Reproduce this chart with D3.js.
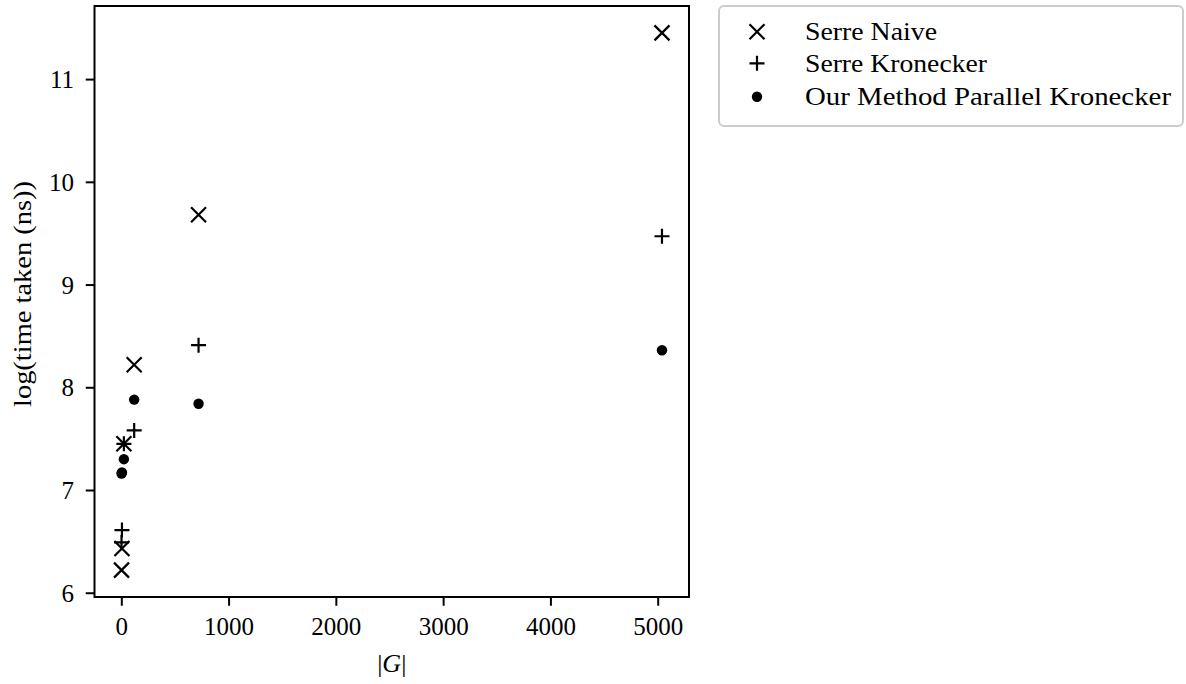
<!DOCTYPE html>
<html>
<head>
<meta charset="utf-8">
<script src="https://cdn.jsdelivr.net/npm/d3@7"></script>
<style>
  html, body { margin: 0; padding: 0; background: #fff; }
  svg { display: block; }
  text { font-family: "Liberation Serif", "DejaVu Serif", serif; fill: #000; }
</style>
</head>
<body>
<svg id="chart" width="1186" height="684"></svg>
<script>
// ---- data ----
const groupOrders = [2, 6, 24, 120, 720, 5040];
const serreNaive = [6.22, 6.43, 7.45, 8.22, 9.68, 11.45];
const serreKronecker = [6.49, 6.61, 7.45, 7.58, 8.41, 9.47];
const ourMethod = [7.16, 7.17, 7.30, 7.88, 7.84, 8.36];
const seriesNames = ["Serre Naive", "Serre Kronecker", "Our Method Parallel Kronecker"];
const xTicks = [0, 1000, 2000, 3000, 4000, 5000];
const yTicks = [6, 7, 8, 9, 10, 11];

// ---- layout ----
const W = 1186, H = 684;
const plot = { left: 94.5, right: 689, top: 6, bottom: 597 };

const svg = d3.select("#chart");

const allX = groupOrders;
const allY = serreNaive.concat(serreKronecker, ourMethod);
const xExt = d3.extent(allX), yExt = d3.extent(allY);
const xPad = (xExt[1] - xExt[0]) * 0.05, yPad = (yExt[1] - yExt[0]) * 0.05;

const x = d3.scaleLinear().domain([xExt[0] - xPad, xExt[1] + xPad]).range([plot.left, plot.right]);
const y = d3.scaleLinear().domain([yExt[0] - yPad, yExt[1] + yPad]).range([plot.bottom, plot.top]);

// axes
const xAxis = svg.append("g")
  .attr("transform", `translate(0,${plot.bottom})`)
  .call(d3.axisBottom(x).tickValues(xTicks).tickFormat(d3.format("d")).tickSizeOuter(0).tickSize(8.75));
xAxis.select(".domain").remove();
xAxis.selectAll(".tick line").attr("stroke", "#000").attr("stroke-width", 2);
xAxis.selectAll(".tick text")
  .attr("y", 38).attr("dy", 0)
  .style("font-size", "25px").style("font-family", "Liberation Serif, serif").attr("fill", "#000");

const yAxis = svg.append("g")
  .attr("transform", `translate(${plot.left},0)`)
  .call(d3.axisLeft(y).tickValues(yTicks).tickFormat(d3.format("d")).tickSizeOuter(0).tickSize(8.75));
yAxis.select(".domain").remove();
yAxis.selectAll(".tick line").attr("stroke", "#000").attr("stroke-width", 2);
yAxis.selectAll(".tick text")
  .attr("x", -20.5).attr("dy", "0.34em")
  .style("font-size", "25px").style("font-family", "Liberation Serif, serif").attr("fill", "#000");

// frame
svg.append("rect")
  .attr("x", plot.left).attr("y", plot.top)
  .attr("width", plot.right - plot.left).attr("height", plot.bottom - plot.top)
  .attr("fill", "none").attr("stroke", "#000").attr("stroke-width", 2);

// marker helpers
const half = 7.5;
function timesPath(cx, cy) {
  return `M${cx - half},${cy - half}L${cx + half},${cy + half}M${cx - half},${cy + half}L${cx + half},${cy - half}`;
}
function plusPath(cx, cy) {
  return `M${cx - half},${cy}L${cx + half},${cy}M${cx},${cy - half}L${cx},${cy + half}`;
}

const gPts = svg.append("g");
gPts.selectAll("path.naive").data(groupOrders.map((g, i) => [g, serreNaive[i]]))
  .join("path").attr("class", "naive")
  .attr("d", d => timesPath(x(d[0]), y(d[1])))
  .attr("stroke", "#000").attr("stroke-width", 2.2).attr("fill", "none");
gPts.selectAll("path.kron").data(groupOrders.map((g, i) => [g, serreKronecker[i]]))
  .join("path").attr("class", "kron")
  .attr("d", d => plusPath(x(d[0]), y(d[1])))
  .attr("stroke", "#000").attr("stroke-width", 2.2).attr("fill", "none");
gPts.selectAll("circle.ours").data(groupOrders.map((g, i) => [g, ourMethod[i]]))
  .join("circle").attr("class", "ours")
  .attr("cx", d => x(d[0])).attr("cy", d => y(d[1])).attr("r", 5.2)
  .attr("fill", "#000");

// axis labels
svg.append("text")
  .attr("x", (plot.left + plot.right) / 2).attr("y", 672)
  .attr("text-anchor", "middle").style("font-size", "26px")
  .html('|<tspan font-style="italic">G</tspan>|');

svg.append("text")
  .attr("transform", `translate(31,294) rotate(-90)`)
  .attr("text-anchor", "middle").style("font-size", "25px")
  .attr("textLength", 226).attr("lengthAdjust", "spacingAndGlyphs")
  .text("log(time taken (ns))");

// legend
const leg = svg.append("g");
leg.append("rect")
  .attr("x", 719).attr("y", 6).attr("width", 464).attr("height", 120)
  .attr("rx", 5).attr("ry", 5)
  .attr("fill", "#fff").attr("stroke", "#cccccc").attr("stroke-width", 2);
const rowY = [31.7, 63.3, 96.7];
const textLens = [132, 182, 366];
const mx = 757;
leg.append("path").attr("d", timesPath(mx, rowY[0])).attr("stroke", "#000").attr("stroke-width", 2.2).attr("fill", "none");
leg.append("path").attr("d", plusPath(mx, rowY[1])).attr("stroke", "#000").attr("stroke-width", 2.2).attr("fill", "none");
leg.append("circle").attr("cx", mx).attr("cy", rowY[2]).attr("r", 5.2).attr("fill", "#000");
seriesNames.forEach((name, i) => {
  leg.append("text")
    .attr("x", 805).attr("y", rowY[i] + 8.3)
    .style("font-size", "25px")
    .attr("textLength", textLens[i]).attr("lengthAdjust", "spacingAndGlyphs")
    .text(name);
});
</script>
</body>
</html>
